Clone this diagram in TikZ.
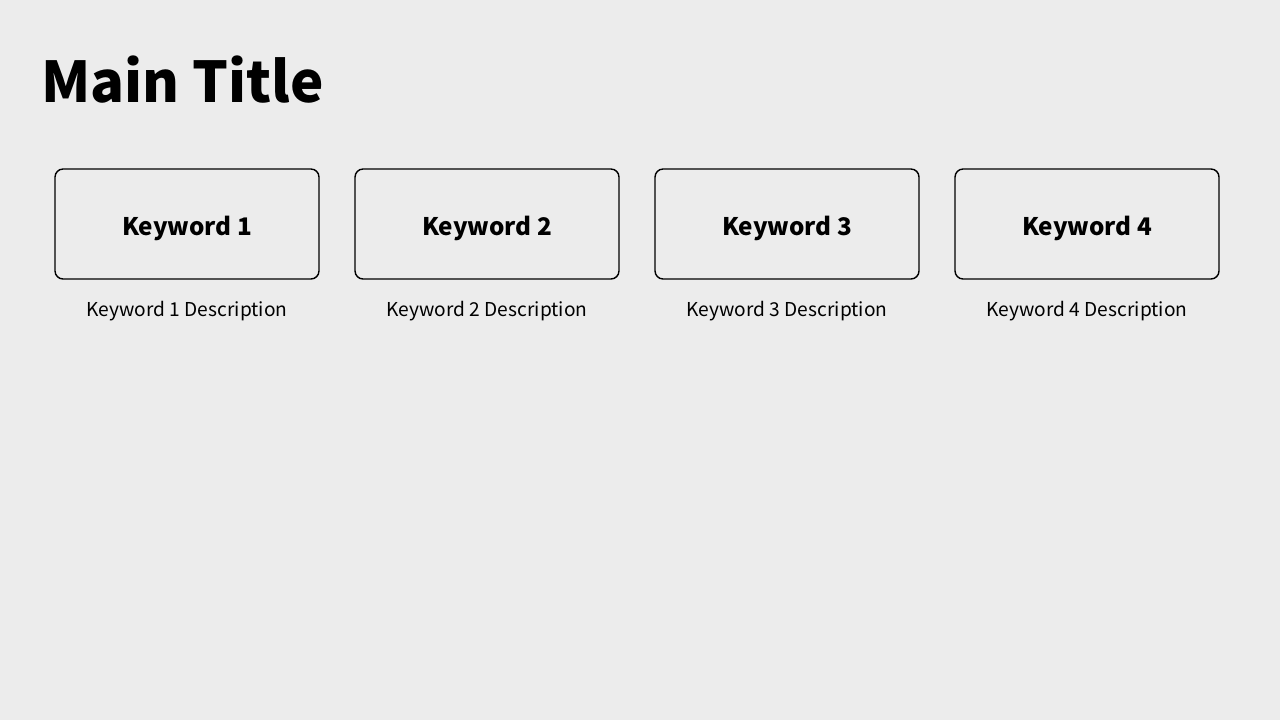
\documentclass[tikz,border=0pt]{standalone}
\usepackage{fontspec}
\setmainfont{Noto Sans CJK SC}
\newfontfamily\titlefont{Noto Sans CJK SC Black}
\usetikzlibrary{positioning}
\definecolor{pagebg}{HTML}{ECECEC}
\tikzset{
  keybox/.style={draw=black, line width=0.8pt, rounded corners=0.16cm,
    minimum width=5.28cm, minimum height=2.2cm, inner sep=0pt,
    text height=13.5pt, text depth=0pt,
    font=\fontsize{13.8}{16}\selectfont\bfseries},
  keydesc/.style={inner sep=0pt, text height=8pt, text depth=0pt,
    font=\fontsize{10.9}{13}\selectfont}
}
\begin{document}
\begin{tikzpicture}[x=0.02cm, y=-0.02cm]
  % Background
  \fill[pagebg] (0,0) rectangle (1280,720);
  \useasboundingbox (0,0) rectangle (1280,720);
  % Title
  \node[anchor=base west, inner sep=0pt, font=\fontsize{32}{38}\titlefont] (title) at (41,102) {Main Title};
  % Keyword boxes
  \foreach \i in {1,...,4} {
    \node[keybox] (kw\i) at (187+300*\i-300, 224) {Keyword \i};
    \node[keydesc, below=0.45cm of kw\i] (desc\i) {Keyword \i{} Description};
  }
\end{tikzpicture}
\end{document}
